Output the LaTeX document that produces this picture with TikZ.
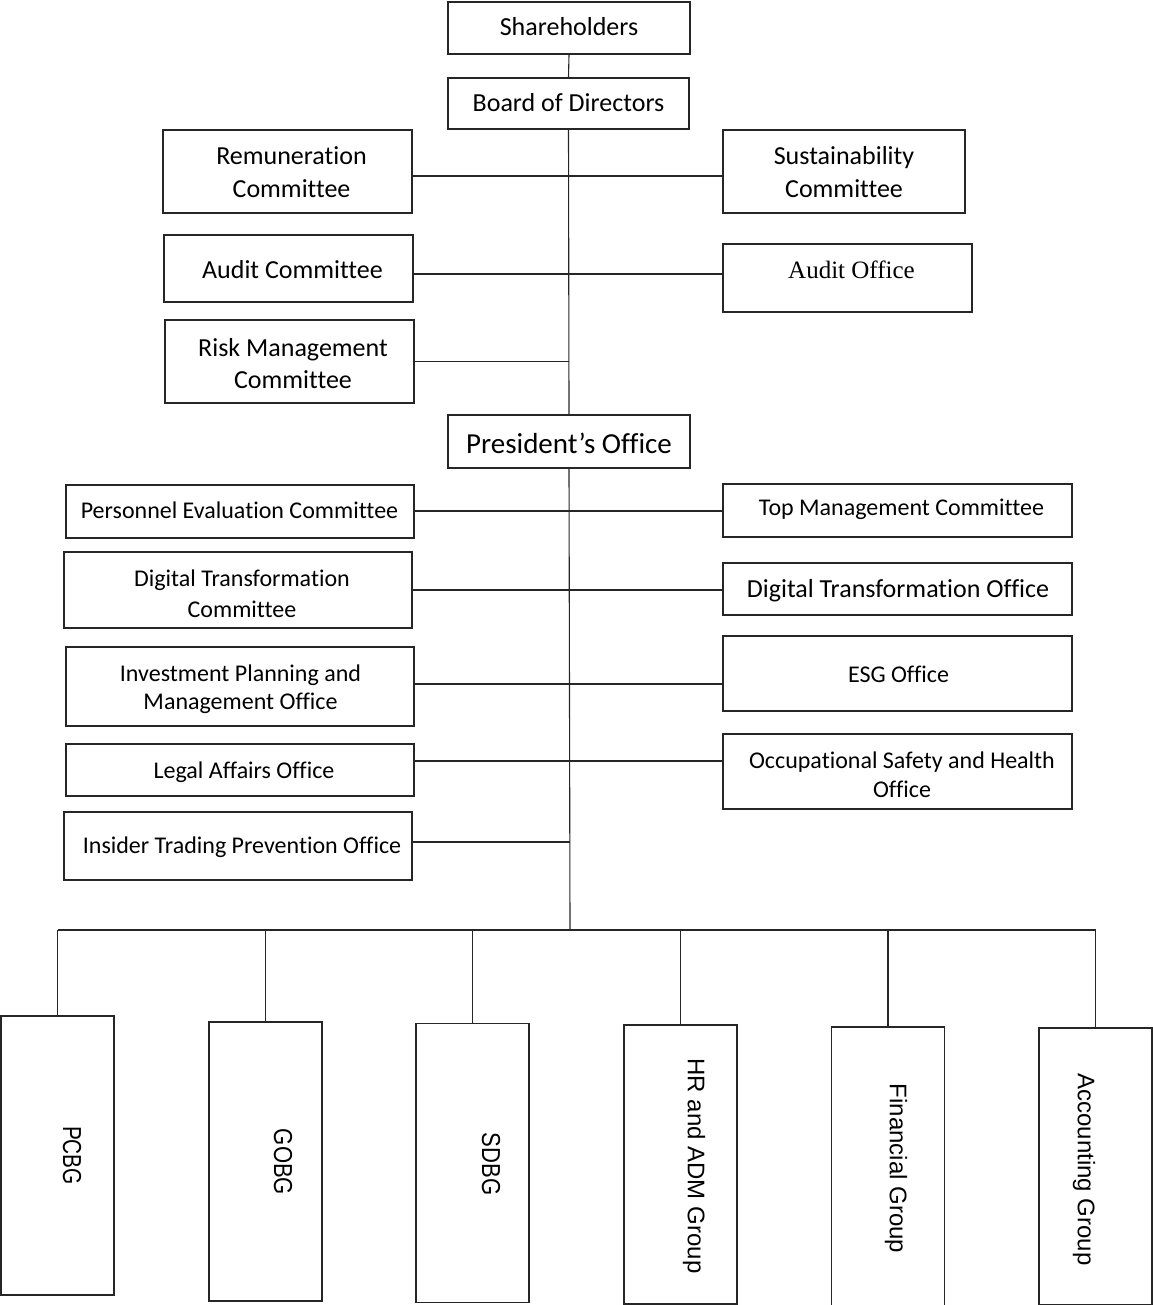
\documentclass[tikz,border=0pt]{standalone}
\usepackage{fontspec}
\setmainfont[Ligatures=NoCommon]{Carlito}
\newfontfamily\arialf{Liberation Sans}
\newfontfamily\timesf[Ligatures=NoCommon]{Liberation Serif}
\usepackage{graphicx}
\tikzset{
  box/.style={draw=black!85, line width=1.1pt, inner sep=0pt},
  txt/.style={inner sep=0pt, align=center, font=\fontsize{24}{29}\selectfont},
  bigtext/.style={font=\fontsize{26}{33}\selectfont},
  conn/.style={draw=black!85, line width=1.1pt},
  vbox/.style={draw=black!85, line width=1.1pt, inner sep=0pt,
               minimum width=113pt, minimum height=279pt},
  vtext/.style={rotate=-90, inner sep=0pt, font=\arialf\fontsize{24}{29}\selectfont},
  acr/.style={rotate=-90, inner sep=0pt, font=\arialf\fontsize{26}{30}\selectfont}
}
\begin{document}
\begin{tikzpicture}[x=1pt,y=-1pt]
\useasboundingbox (0,0) rectangle (1152,1305);
% boxes, top part
\node[box,minimum width=242pt,minimum height=52pt] (sh) at (569,28) {};
\node[box,minimum width=241pt,minimum height=51pt] (bod) at (568.5,103.5) {};
\node[box,minimum width=249pt,minimum height=83pt] (rem) at (287.5,171.5) {};
\node[box,minimum width=242pt,minimum height=83pt] (sus) at (844,171.5) {};
\node[box,minimum width=249pt,minimum height=67pt] (audc) at (288.5,268.5) {};
\node[box,minimum width=249pt,minimum height=68pt] (audo) at (847.5,278) {};
\node[box,minimum width=249pt,minimum height=83pt] (risk) at (289.5,361.5) {};
\node[box,minimum width=242pt,minimum height=53pt] (pres) at (569,441.5) {};
% boxes, middle part
\node[box,minimum width=348pt,minimum height=53pt] (pec) at (240,511.5) {};
\node[box,minimum width=349pt,minimum height=53pt] (tmc) at (897.5,510.5) {};
\node[box,minimum width=348pt,minimum height=76pt] (dtc) at (238,590) {};
\node[box,minimum width=349pt,minimum height=52pt] (dto) at (897.5,589) {};
\node[box,minimum width=348pt,minimum height=79pt] (ipm) at (240,686.5) {};
\node[box,minimum width=349pt,minimum height=75pt] (esg) at (897.5,673.5) {};
\node[box,minimum width=348pt,minimum height=52pt] (lao) at (240,770) {};
\node[box,minimum width=349pt,minimum height=75pt] (osh) at (897.5,771.5) {};
\node[box,minimum width=348pt,minimum height=68pt] (itp) at (238,846) {};
% texts
\node[txt,bigtext] (sht) at (569,27) {Shareholders};
\node[txt,bigtext] (bodt) at (568.5,103) {Board of Directors};
\node[txt,bigtext] (remt) at (291.5,172.5) {Remuneration\\Committee};
\node[txt,bigtext] (sust) at (844,172.5) {Sustainability\\Committee};
\node[txt,bigtext] (audct) at (292.5,270) {Audit Committee};
\node[txt,font=\timesf\fontsize{25}{30}\selectfont] (audot) at (851.5,270) {Audit Office};
\node[txt,font=\fontsize{26}{32}\selectfont] (riskt) at (293,364) {Risk Management\\Committee};
\node[txt,font=\fontsize{29}{34}\selectfont] (prest) at (569,443) {President’s Office};
\node[txt] (pect) at (239.5,510) {Personnel Evaluation Committee};
\node[txt] (tmct) at (901.5,509.5) {Top Management Committee};
\node[txt,font=\fontsize{24}{31}\selectfont] (dtct) at (242,594) {Digital Transformation\\Committee};
\node[txt,bigtext] (dtot) at (898,591) {Digital Transformation Office};
\node[txt,font=\fontsize{24}{28}\selectfont] (ipmt) at (240.5,689) {Investment Planning and\\Management Office};
\node[txt] (esgt) at (898.5,674.5) {ESG Office};
\node[txt] (laot) at (244,772) {Legal Affairs Office};
\node[txt] (osht) at (902,774.5) {Occupational Safety and Health\\Office};
\node[txt] (itpt) at (242,847) {Insider Trading Prevention Office};
% bottom boxes
\node[vbox] (pcbg) at (57.5,1155.5) {};
\node[vbox] (gobg) at (265.5,1161.5) {};
\node[vbox] (sdbg) at (472.5,1163) {};
\node[vbox] (hr) at (680.5,1164.5) {};
\node[vbox] (fin) at (888,1166.5) {};
\node[vbox,minimum height=277pt] (acc) at (1095.5,1166.5) {};
\node[acr] (pcbgt) at (72,1155.5) {\scalebox{0.8}[1]{PCBG}};
\node[acr] (gobgt) at (283,1162) {\scalebox{0.85}[1]{GOBG}};
\node[acr] (sdbgt) at (491,1164) {\scalebox{0.85}[1]{SDBG}};
\node[vtext] (hrt) at (694,1166) {HR and ADM Group};
\node[vtext] (fint) at (896,1168.5) {Financial Group};
\node[vtext] (acct) at (1084,1169.5) {Accounting Group};
% connectors
\coordinate (ya) at (0,176);
\coordinate (yb) at (0,274);
\coordinate (y1) at (0,511);
\coordinate (y2) at (0,590);
\coordinate (y3) at (0,684);
\coordinate (y4) at (0,761);
\coordinate (y5) at (0,842);
\coordinate (bus) at (570,930);
\draw[conn] (sh.south) -- (bod.north);
\draw[conn] (bod.south) -- (pres.north);
\draw[conn] (rem.east |- ya) -- (sus.west |- ya);
\draw[conn] (audc.east |- yb) -- (audo.west |- yb);
\draw[conn] (risk.east) -- (risk.east -| pres.north);
\draw[conn] (pres.south) -- (bus);
\draw[conn] (pec.east |- y1) -- (tmc.west |- y1);
\draw[conn] (dtc.east |- y2) -- (dto.west |- y2);
\draw[conn] (ipm.east |- y3) -- (esg.west |- y3);
\draw[conn] (lao.east |- y4) -- (osh.west |- y4);
\draw[conn] (itp.east |- y5) -- (bus |- y5);
\draw[conn] (pcbg.north |- bus) -- (acc.north |- bus);
\foreach \b in {pcbg,gobg,sdbg,hr,fin,acc}
  \draw[conn] (\b.north |- bus) -- (\b.north);
\end{tikzpicture}
\end{document}
